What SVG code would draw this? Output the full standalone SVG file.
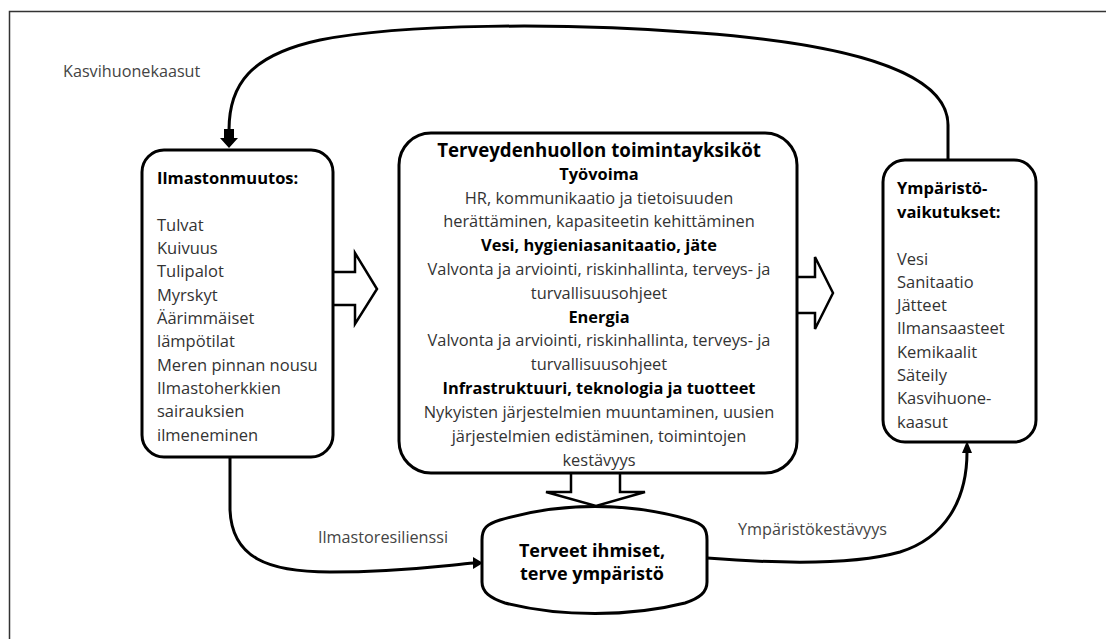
<svg xmlns="http://www.w3.org/2000/svg" width="1106" height="639" viewBox="0 0 1106 639">
<style>
  .box{fill:#fff;stroke:#000;stroke-width:3}
  .conn{fill:none;stroke:#000;stroke-width:3}
  .blk{fill:#fff;stroke:#000;stroke-width:2.5;stroke-linejoin:miter}
  text{font-family:"Open Sans","Noto Sans",sans-serif;font-size:16.5px;fill:#333}
  .b{font-weight:bold;fill:#000}
  .t{font-size:18.7px}
  .m{font-size:16.4px}
  .c{text-anchor:middle}
  .lbl{fill:#444;font-size:16.2px}
</style>
<rect x="9.5" y="11.5" width="1200" height="700" fill="#fff" stroke="#333" stroke-width="1.5"/>

<g id="connectors">
  <path class="conn" d="M948,160 L948,125 C948,75 860,45 700,33 C560,22 400,24 320,40 C250,55 229,85 229,130"/>
  <path d="M224,129 L234,129 L234,138 L238,138 L229,148 L220,138 L224,138 Z" fill="#000"/>
  <path class="conn" d="M230,457 L230,510 C232,558 268,572 330,572 C400,572 440,566 474,563"/>
  <path d="M473,557 L483,563 L473,569 Z" fill="#000"/>
  <path class="conn" d="M707,558 C770,563 850,566 900,552 C945,538 967,500 967,452"/>
  <path d="M962,453 L967,441 L972,453 Z" fill="#000"/>
  <text class="lbl" x="63" y="77">Kasvihuonekaasut</text>
  <text class="lbl" x="318" y="543">Ilmastoresilienssi</text>
  <text class="lbl" x="738" y="535">Ympäristökestävyys</text>
  <path class="blk" d="M333,272 L355,272 L355,253 L377,289 L355,324 L355,305 L333,305"/>
  <path class="blk" d="M797,277 L815,277 L815,257 L833,293 L815,329 L815,313 L797,313"/>
  <path class="blk" d="M571,473 L571,492 L546,492 L596,506 L645,492 L620,492 L620,473"/>
</g>

<g id="ilmastonmuutos">
  <rect class="box" x="142" y="150" width="191" height="307" rx="22"/>
  <text class="b" x="157" y="184">Ilmastonmuutos:</text>
  <text x="157" y="231">Tulvat</text>
  <text x="157" y="254">Kuivuus</text>
  <text x="157" y="277">Tulipalot</text>
  <text x="157" y="301">Myrskyt</text>
  <text x="157" y="324">Äärimmäiset</text>
  <text x="157" y="347">lämpötilat</text>
  <text x="157" y="371">Meren pinnan nousu</text>
  <text x="157" y="394">Ilmastoherkkien</text>
  <text x="157" y="417">sairauksien</text>
  <text x="157" y="441">ilmeneminen</text>
</g>

<g id="toimintayksikot">
  <rect class="box" x="399" y="133" width="398" height="340" rx="32"/>
  <text class="b t c" x="599" y="157">Terveydenhuollon toimintayksiköt</text>
  <text class="b m c" x="599" y="180">Työvoima</text>
  <text class="m c" x="599" y="204">HR, kommunikaatio ja tietoisuuden</text>
  <text class="m c" x="599" y="227">herättäminen, kapasiteetin kehittäminen</text>
  <text class="b m c" x="599" y="251">Vesi, hygieniasanitaatio, jäte</text>
  <text class="m c" x="599" y="275">Valvonta ja arviointi, riskinhallinta, terveys- ja</text>
  <text class="m c" x="599" y="299">turvallisuusohjeet</text>
  <text class="b m c" x="599" y="323">Energia</text>
  <text class="m c" x="599" y="346">Valvonta ja arviointi, riskinhallinta, terveys- ja</text>
  <text class="m c" x="599" y="370">turvallisuusohjeet</text>
  <text class="b m c" x="599" y="394">Infrastruktuuri, teknologia ja tuotteet</text>
  <text class="m c" x="599" y="418">Nykyisten järjestelmien muuntaminen, uusien</text>
  <text class="m c" x="599" y="442">järjestelmien edistäminen, toimintojen</text>
  <text class="m c" x="599" y="466">kestävyys</text>
</g>

<g id="ymparistovaikutukset">
  <rect class="box" x="883" y="160" width="153" height="282" rx="22"/>
  <text class="b" x="897" y="194">Ympäristö-</text>
  <text class="b" x="897" y="218">vaikutukset:</text>
  <text x="897" y="265">Vesi</text>
  <text x="897" y="288">Sanitaatio</text>
  <text x="897" y="311">Jätteet</text>
  <text x="897" y="334">Ilmansaasteet</text>
  <text x="897" y="358">Kemikaalit</text>
  <text x="897" y="381">Säteily</text>
  <text x="897" y="404">Kasvihuone-</text>
  <text x="897" y="428">kaasut</text>
</g>

<g id="terveet">
  <path class="box" d="M482,540 C482,528 487,524 500,520 C560,502 630,502 690,520 C703,524 707,528 707,540 L707,582 C707,592 700,598 685,603 C630,617 560,617 505,603 C490,598 482,592 482,582 Z"/>
  <text class="b c" x="592" y="557" style="font-size:18px">Terveet ihmiset,</text>
  <text class="b c" x="592" y="580" style="font-size:18px">terve ympäristö</text>
</g>
</svg>
